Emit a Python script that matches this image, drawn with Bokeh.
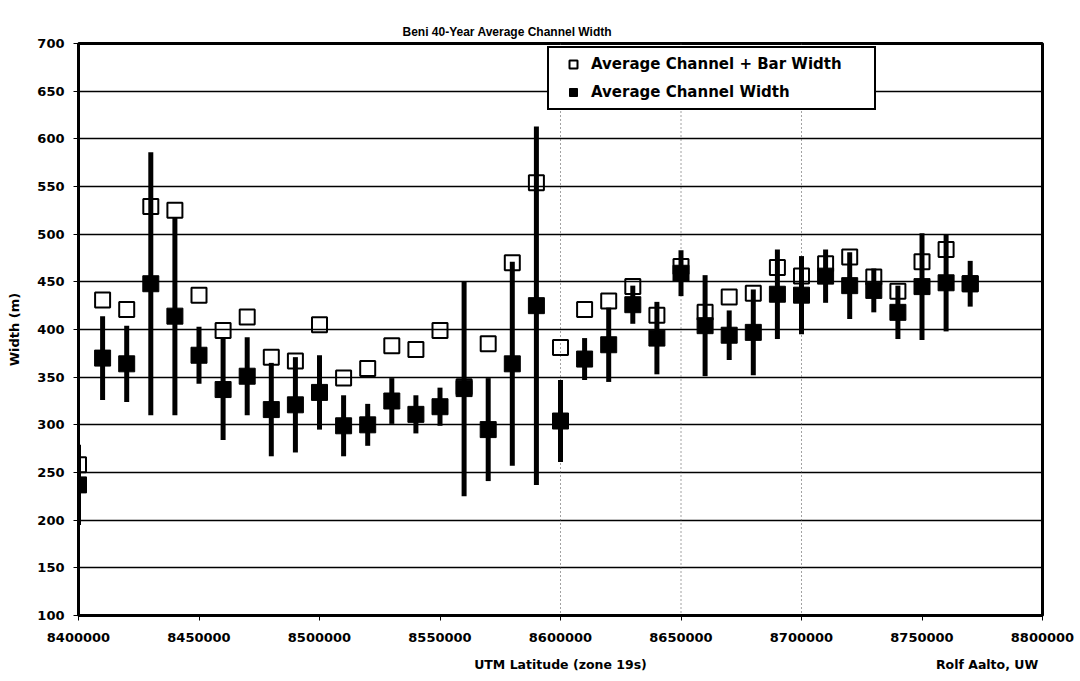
from bokeh.plotting import figure
from bokeh.models import Range1d, FixedTicker, Span, Legend, LegendItem, LinearAxis
from bokeh.embed import file_html
from bokeh.resources import INLINE

# UTM northing of each reach (m)
latitude = [
    8400000, 8410000, 8420000, 8430000, 8440000, 8450000, 8460000, 8470000,
    8480000, 8490000, 8500000, 8510000, 8520000, 8530000, 8540000, 8550000,
    8560000, 8570000, 8580000, 8590000, 8600000, 8610000, 8620000, 8630000,
    8640000, 8650000, 8660000, 8670000, 8680000, 8690000, 8700000, 8710000,
    8720000, 8730000, 8740000, 8750000, 8760000, 8770000,
]

# 40-year mean channel + bar width (m)
channel_bar_width = [
    258, 431, 421, 529, 525, 436, 399, 413,
    371, 367, 405, 349, 359, 383, 379, 399,
    340, 385, 470, 554, 381, 421, 430, 445,
    415, 466, 418, 434, 438, 465, 456, 469,
    476, 455, 440, 471, 484, 448,
]

# 40-year mean channel width (m)
channel_width = [
    237, 370, 364, 448, 414, 373, 337, 351,
    316, 321, 334, 299, 300, 325, 311, 319,
    338, 295, 364, 425, 304, 369, 384, 426,
    391, 459, 404, 394, 397, 437, 436, 456,
    446, 441, 418, 445, 449, 448,
]

# spread of the channel width over the 40 years (+/- m)
width_spread = [
    42, 44, 40, 138, 104, 30, 53, 41,
    49, 50, 39, 32, 22, 24, 20, 20,
    113, 54, 107, 188, 43, 22, 39, 20,
    38, 24, 53, 26, 45, 47, 41, 28,
    35, 23, 28, 56, 51, 24,
]

y_ticks = [100, 150, 200, 250, 300, 350, 400, 450, 500, 550, 600, 650, 700]
x_ticks = [8400000, 8450000, 8500000, 8550000, 8600000, 8650000, 8700000, 8750000, 8800000]
divider_lines = [8600000, 8650000, 8700000]

x_title = "UTM Latitude (zone 19s)"
credit = "Rolf Aalto, UW"
x_title_at = 8600000
credit_at = 8777000

low = [w - s for w, s in zip(channel_width, width_spread)]
high = [w + s for w, s in zip(channel_width, width_spread)]

TITLE_FONT = "Liberation Sans"
FONT = "DejaVu Sans"

p = figure(
    width=1080, height=681,
    x_range=Range1d(8400000, 8800000), y_range=Range1d(100, 700),
    output_backend="svg", toolbar_location=None,
    min_border_left=78, min_border_right=38, min_border_top=43, min_border_bottom=66,
    background_fill_color="white", border_fill_color="white",
)
main_x = p.xaxis[0]
main_y = p.yaxis[0]

p.title.text = "Beni 40-Year Average Channel Width"
p.title.text_font = TITLE_FONT
p.title.text_font_size = "12px"
p.title.text_font_style = "bold"
p.title.align = "left"
p.title.offset = 324
p.title.standoff = 10
p.title.text_color = "black"

p.outline_line_color = "black"
p.outline_line_width = 3

# axes
for ax in (main_x, main_y):
    ax.axis_line_color = "black"
    ax.axis_line_width = 2
    ax.major_tick_line_color = "black"
    ax.major_tick_line_width = 1
    ax.major_tick_out = 5
    ax.major_tick_in = 0
    ax.minor_tick_line_color = None
    ax.major_label_text_font = FONT
    ax.major_label_text_font_style = "bold"
    ax.major_label_text_font_size = "13px"
    ax.major_label_text_color = "black"
    ax.axis_label_text_font = FONT
    ax.axis_label_text_font_style = "bold"
    ax.axis_label_text_font_size = "13px"
    ax.axis_label_text_color = "black"

main_x.ticker = FixedTicker(ticks=x_ticks)
main_x.major_label_overrides = {t: str(t) for t in x_ticks}
main_x.major_label_standoff = 12

main_y.ticker = FixedTicker(ticks=y_ticks)
main_y.major_label_overrides = {t: str(t) for t in y_ticks}
main_y.major_label_standoff = 9
main_y.axis_label = "Width (m)"
main_y.axis_label_standoff = 12

# empty band between the frame and the title (no ticks, so nothing is drawn)
title_gap = LinearAxis(
    ticker=FixedTicker(ticks=[]),
    axis_line_color=None, major_tick_line_color="white", minor_tick_line_color=None,
    major_tick_out=14, major_tick_in=0,
)
p.add_layout(title_gap, "above")

# second row under the axis: axis title in the middle, credit at the right
credit_axis = LinearAxis(
    ticker=FixedTicker(ticks=[x_title_at, credit_at]),
    major_label_overrides={x_title_at: x_title, credit_at: credit},
    axis_line_color=None, major_tick_line_color=None, minor_tick_line_color=None,
    major_tick_out=0, major_tick_in=0, major_label_standoff=12,
    major_label_text_font=FONT, major_label_text_font_style="bold",
    major_label_text_font_size="12.5px", major_label_text_color="black",
)
p.add_layout(credit_axis, "below")

p.xgrid.grid_line_color = None
p.ygrid.ticker = FixedTicker(ticks=y_ticks)
p.ygrid.grid_line_color = "black"
p.ygrid.grid_line_width = 1.5

for xv in divider_lines:
    p.add_layout(Span(location=xv, dimension="height", line_color="#444444",
                      line_width=1, line_dash="1 3", level="underlay"))

# channel + bar width: open squares
r_open = p.scatter(latitude, channel_bar_width, marker="square", size=15,
                   fill_color=None, line_color="black", line_width=2)

# spread of channel width
p.segment(x0=latitude, y0=low, x1=latitude, y1=high, line_color="black", line_width=5)

# channel width: filled squares
r_fill = p.scatter(latitude, channel_width, marker="square", size=16,
                   fill_color="black", line_color="black", line_width=1)

legend = Legend(
    items=[
        LegendItem(label="Average Channel + Bar Width", renderers=[r_open]),
        LegendItem(label="Average Channel Width", renderers=[r_fill]),
    ],
    location=(469, 505),
    orientation="vertical",
    border_line_color="black", border_line_width=2, border_line_alpha=1,
    background_fill_color="white", background_fill_alpha=1,
    label_text_font=FONT, label_text_font_style="bold",
    label_text_font_size="15px", label_text_color="black",
    glyph_width=36, glyph_height=20, label_height=20,
    label_standoff=0, label_width=277,
    padding=6, spacing=8, margin=0,
)
p.add_layout(legend, "center")

open("out.html", "w").write(file_html(p, INLINE))
